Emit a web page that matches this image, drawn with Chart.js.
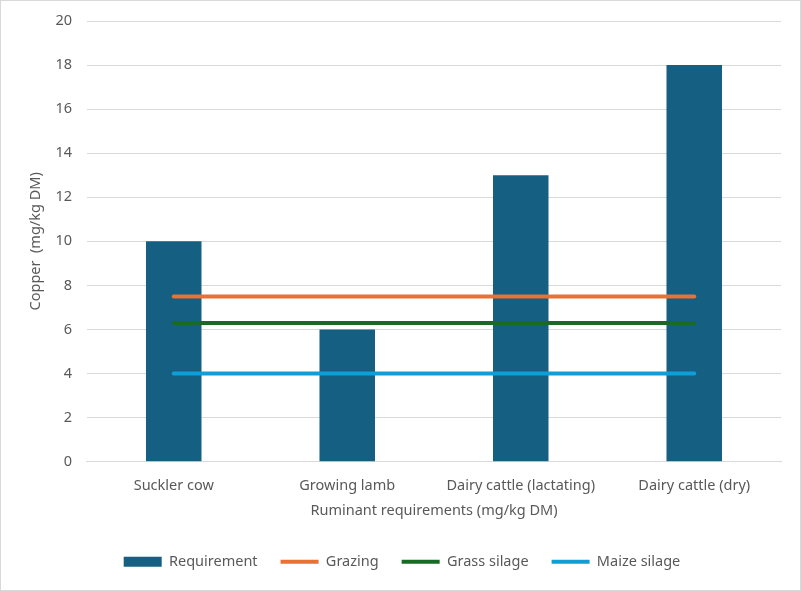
<!DOCTYPE html>
<html lang="en">
<head>
<meta charset="UTF-8">
<title>Copper requirements</title>
<script src="https://cdn.jsdelivr.net/npm/chart.js@4.4.7/dist/chart.umd.min.js"></script>
<style>
*{margin:0;padding:0;box-sizing:border-box}
body{background:#fff;width:801px;height:591px;overflow:hidden}
.wrap{position:relative;width:801px;height:591px;border:1px solid #d9d9d9}
canvas{display:block}
</style>
</head>
<body>
<div class="wrap"><canvas id="chart" width="799" height="589"></canvas></div>
<script>
var CATEGORIES = ["Suckler cow", "Growing lamb", "Dairy cattle (lactating)", "Dairy cattle (dry)"];
var REQUIREMENT = [10, 6, 13, 18];
var GRAZING = [7.5, 7.5, 7.5, 7.5];
var GRASS_SILAGE = [6.3, 6.3, 6.3, 6.3];
var MAIZE_SILAGE = [4, 4, 4, 4];
var Y_TICKS = [0, 2, 4, 6, 8, 10, 12, 14, 16, 18, 20];

var FONT = "'Noto Sans', sans-serif";
var SIZE = 14.5;
var GREY = "#595959";

function lineSet(label, data, color) {
  return {type: "line", label: label, data: data, borderColor: color, backgroundColor: color,
    borderWidth: 4, pointRadius: 0, pointStyle: "line", borderCapStyle: "round", fill: false, order: 0};
}

new Chart(document.getElementById("chart"), {
  type: "bar",
  data: {
    labels: CATEGORIES,
    datasets: [
      {label: "Requirement", data: REQUIREMENT, backgroundColor: "#156082", borderWidth: 0,
        pointStyle: "rect", barPercentage: 0.32, categoryPercentage: 1, order: 1},
      lineSet("Grazing", GRAZING, "#e97132"),
      lineSet("Grass silage", GRASS_SILAGE, "#196b24"),
      lineSet("Maize silage", MAIZE_SILAGE, "#0f9ed5")
    ]
  },
  options: {
    responsive: false,
    animation: false,
    devicePixelRatio: 1,
    layout: {padding: {left: 22, right: 19, top: 20, bottom: 11}},
    plugins: {
      tooltip: {enabled: false},
      legend: {
        position: "bottom",
        labels: {
          usePointStyle: true, pointStyleWidth: 38, boxHeight: 10,
          color: GREY, font: {family: FONT, size: SIZE}, padding: 23,
          sort: function (a, b) { return a.datasetIndex - b.datasetIndex; }
        }
      }
    },
    scales: {
      x: {
        grid: {display: false},
        border: {color: "#d9d9d9"},
        ticks: {color: GREY, font: {family: FONT, size: SIZE}, padding: 7, maxRotation: 0},
        title: {display: true, text: "Ruminant requirements (mg/kg DM)", color: GREY,
          font: {family: FONT, size: SIZE}, padding: {top: 1, bottom: 12}}
      },
      y: {
        min: 0, max: 20,
        afterBuildTicks: function (axis) { axis.ticks = Y_TICKS.map(function (v) { return {value: v}; }); },
        afterFit: function (axis) { axis.paddingTop = 0; },
        grid: {color: "#d9d9d9", drawTicks: false},
        border: {display: false},
        ticks: {color: GREY, font: {family: FONT, size: SIZE}, padding: 15},
        title: {display: true, text: "Copper  (mg/kg DM)", color: GREY,
          font: {family: FONT, size: SIZE}, padding: {top: 4, bottom: -4}}
      }
    }
  }
});
</script>
</body>
</html>
